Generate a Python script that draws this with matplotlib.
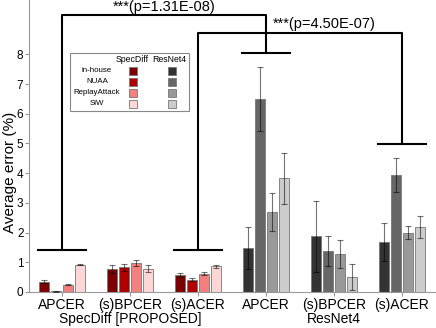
import numpy as np
import matplotlib
matplotlib.use("Agg")
import matplotlib.pyplot as plt
from matplotlib.patches import Rectangle

plt.rcParams["font.family"] = ["Liberation Sans", "DejaVu Sans"]

# data
models = ["SpecDiff [PROPOSED]", "ResNet4"]
metrics = ["APCER", "(s)BPCER", "(s)ACER"]
datasets = ["in-house", "NUAA", "ReplayAttack", "SiW"]

specdiff_mean = [[0.35, 0.02, 0.24, 0.92],
                 [0.78, 0.83, 0.98, 0.79],
                 [0.57, 0.42, 0.61, 0.87]]
specdiff_err = [[0.04, 0.01, 0.02, 0.02],
                [0.13, 0.12, 0.10, 0.12],
                [0.07, 0.05, 0.05, 0.05]]
resnet_mean = [[1.48, 6.50, 2.70, 3.83],
               [1.87, 1.38, 1.27, 0.50],
               [1.67, 3.93, 1.99, 2.18]]
resnet_err = [[0.70, 1.08, 0.64, 0.86],
              [1.18, 0.49, 0.47, 0.43],
              [0.64, 0.57, 0.22, 0.37]]

specdiff_colors = ["#7d0000", "#b20000", "#f47f7f", "#ffd6d6"]
resnet_colors = ["#333333", "#666666", "#999999", "#cccccc"]

# significance: (from group, to group, p label, low end heights, top height)
sig_pairs = [(0, 3), (2, 5)]
sig_labels = ["***(p=1.31E-08)", "***(p=4.50E-07)"]
sig_low = [(1.41, 8.06), (1.41, 4.97)]
sig_top = [9.33, 8.73]

W, H = 436, 328
fig = plt.figure(figsize=(W / 100, H / 100), dpi=100)
ax = fig.add_axes([29 / W, 36 / H, 407 / W, 292 / H])

means = specdiff_mean + resnet_mean
errs = specdiff_err + resnet_err
ngroups = len(means)
x = np.arange(ngroups)
width = 0.15
step = 0.18
for j in range(len(datasets)):
    for g in range(ngroups):
        col = specdiff_colors[j] if g < 3 else resnet_colors[j]
        ax.bar(x[g] + (j - 1.5) * step, means[g][j], width, color=col,
               edgecolor="#777777", linewidth=0.6, zorder=2)
        ax.errorbar(x[g] + (j - 1.5) * step, means[g][j], yerr=errs[g][j],
                    fmt="none", ecolor=(0, 0, 0, 0.55), elinewidth=0.8,
                    capsize=2, capthick=0.8, zorder=3)

ax.set_xlim(-0.485, 5.5)
ax.set_ylim(0, 9.83)
ax.set_xticks(x)
ax.set_xticklabels(metrics * 2, fontsize=10)
ax.set_yticks(range(9))
ax.tick_params(axis="x", labelsize=10, color="#999999", length=3, pad=1.5)
ax.tick_params(axis="y", labelsize=8.5, color="#999999", length=3, pad=1)
ax.set_ylabel("Average error (%)", fontsize=11)
ax.yaxis.set_label_coords(-0.029, 0.41)
for s in ["top", "right"]:
    ax.spines[s].set_visible(False)
for s in ["left", "bottom"]:
    ax.spines[s].set_color("#999999")
    ax.spines[s].set_linewidth(0.8)

# model labels under the tick labels
for k, name in enumerate(models):
    ax.annotate(name, xy=(1 + 3 * k, 0), xycoords=("data", "axes fraction"),
                xytext=(0, -14.5), textcoords="offset points",
                ha="center", va="top", fontsize=10)

# significance brackets
half = 0.36
for (a, b), lab, (la, lb), top in zip(sig_pairs, sig_labels, sig_low, sig_top):
    kw = dict(color="black", lw=1.5, clip_on=False, zorder=4)
    ax.plot([a, a, b, b], [la, top, top, lb], **kw)
    ax.plot([a - half, a + half], [la, la], **kw)
    ax.plot([b - half, b + half], [lb, lb], **kw)
ax.text((sig_pairs[0][0] + sig_pairs[0][1]) / 2, 9.6, sig_labels[0],
        ha="center", va="center", fontsize=10.5)
ax.text(3.1, 9.03, sig_labels[1], ha="left", va="center", fontsize=10.5)

# hand-made legend (pixel layout)
def fp(px, py):
    return px / W, 1 - py / H

bx, by = fp(70, 111)
fig.patches.append(Rectangle((bx, by), 119 / W, 58 / H, transform=fig.transFigure,
                             facecolor="white", edgecolor="#888888", lw=0.8, zorder=5))
fig.text(*fp(132.5, 60), "SpecDiff", ha="center", va="center", fontsize=6.3, zorder=6)
fig.text(*fp(169.5, 60), "ResNet4", ha="center", va="center", fontsize=6.3, zorder=6)
for i, name in enumerate(datasets):
    yy = 71 + i * 10.9
    fig.text(*fp(97, yy), name, ha="center", va="center", fontsize=5.7, zorder=6)
    for cx, cols in [(133, specdiff_colors), (171.5, resnet_colors)]:
        rx, ry = fp(cx - 4, yy + 4)
        fig.patches.append(Rectangle((rx, ry), 8 / W, 8 / H, transform=fig.transFigure,
                                     facecolor=cols[i], edgecolor="#777777", lw=0.6,
                                     zorder=6))

fig.savefig("out.png", dpi=100)
